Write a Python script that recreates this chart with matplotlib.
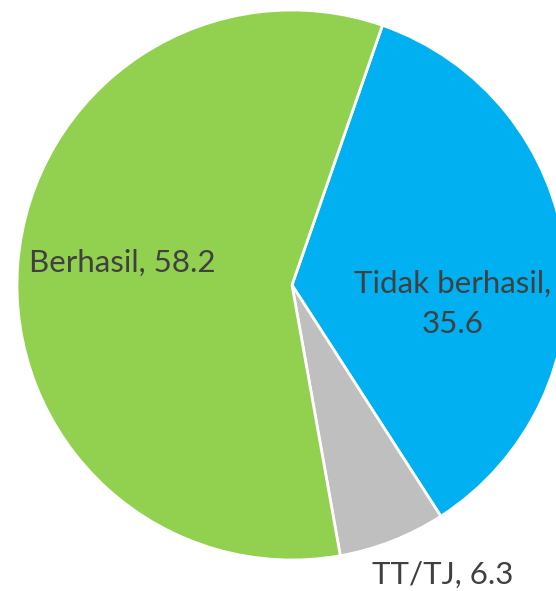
import matplotlib.pyplot as plt

labels = ["Tidak berhasil", "TT/TJ", "Berhasil"]
values = [35.6, 6.3, 58.2]
colors = ["#00B0F0", "#BFBFBF", "#92D050"]

plt.rcParams['font.family'] = ['Lato', 'DejaVu Sans']

fig = plt.figure(figsize=(5.56, 5.91), dpi=100)
ax = fig.add_axes([0, 0, 1, 1])

# pie in pixel units: centre (292, 285 from top), radius 275
ax.pie(values, colors=colors, startangle=70.8, counterclock=False,
       radius=275, center=(292, 591 - 285),
       wedgeprops=dict(edgecolor="white", linewidth=2.0))

ax.set_xlim(0, 556)
ax.set_ylim(0, 591)
ax.set_aspect("auto")
ax.axis("off")

txt = dict(color="#404040", fontsize=22.5, ha="center", va="center")
ax.text(122, 591 - 263, "%s, %s" % (labels[2], values[2]), **txt)
ax.text(453, 591 - 304, "%s,\n%s" % (labels[0], values[0]), linespacing=1.5, **txt)
ax.text(443, 591 - 575, "%s, %s" % (labels[1], values[1]), **txt)

fig.savefig("out.png", dpi=100)
